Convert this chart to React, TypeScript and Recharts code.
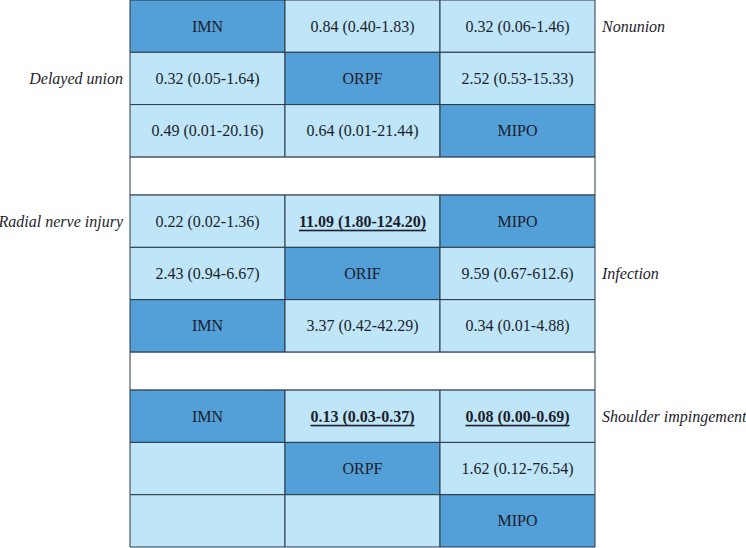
import { ScatterChart, Scatter, XAxis, YAxis, ReferenceArea } from 'recharts';

// three comparison blocks, each a 3x3 grid read row by row
const nonunionGrid = [
  ['IMN', '0.84 (0.40-1.83)', '0.32 (0.06-1.46)'],
  ['0.32 (0.05-1.64)', 'ORPF', '2.52 (0.53-15.33)'],
  ['0.49 (0.01-20.16)', '0.64 (0.01-21.44)', 'MIPO'],
];
const infectionGrid = [
  ['0.22 (0.02-1.36)', '11.09 (1.80-124.20)', 'MIPO'],
  ['2.43 (0.94-6.67)', 'ORIF', '9.59 (0.67-612.6)'],
  ['IMN', '3.37 (0.42-42.29)', '0.34 (0.01-4.88)'],
];
const shoulderGrid = [
  ['IMN', '0.13 (0.03-0.37)', '0.08 (0.00-0.69)'],
  ['', 'ORPF', '1.62 (0.12-76.54)'],
  ['', '', 'MIPO'],
];
const treatments = ['IMN', 'ORPF', 'ORIF', 'MIPO'];
const significant = ['11.09 (1.80-124.20)', '0.13 (0.03-0.37)', '0.08 (0.00-0.69)'];

const sideLabels = [
  { text: 'Nonunion', group: 0, row: 0, side: 'right' },
  { text: 'Delayed union', group: 0, row: 1, side: 'left' },
  { text: 'Radial nerve injury', group: 1, row: 0, side: 'left' },
  { text: 'Infection', group: 1, row: 1, side: 'right' },
  { text: 'Shoulder impingement', group: 2, row: 0, side: 'right' },
];

const GAP = 0.73; // blank spacer row, relative to a cell row
const DARK = '#539fd7';
const LIGHT = '#bee6f8';
const BORDER = '#2a3746';
const FONT = '"Liberation Serif", "Times New Roman", serif';

const groups = [nonunionGrid, infectionGrid, shoulderGrid];
const rowTop = (g: number, r: number) => g * (3 + GAP) + r;
const TOTAL = 3 * 3 + 2 * GAP;

const cells = groups.flatMap((grid, g) =>
  grid.flatMap((row, r) =>
    row.map((text, c) => ({
      x1: c,
      x2: c + 1,
      y1: rowTop(g, r),
      y2: rowTop(g, r) + 1,
      x: c + 0.5,
      y: rowTop(g, r) + 0.5,
      text,
      dark: treatments.includes(text),
      bold: significant.includes(text),
    }))
  )
);

const spacers = [0, 1].map((g) => ({ y1: rowTop(g, 3), y2: rowTop(g + 1, 0) }));

const sidePoints = sideLabels.map((s) => ({
  x: s.side === 'left' ? 0 : 3,
  y: rowTop(s.group, s.row) + 0.5,
  text: s.text,
  side: s.side,
}));

const CellText = (props: any) => {
  const { cx, cy, payload } = props;
  if (!payload.text) return <g />;
  return (
    <text
      x={cx}
      y={cy}
      textAnchor="middle"
      dominantBaseline="central"
      fontFamily={FONT}
      fontSize={16}
      fontWeight={payload.bold ? 'bold' : 'normal'}
      textDecoration={payload.bold ? 'underline' : 'none'}
      fill="#1d1d2b"
    >
      {payload.text}
    </text>
  );
};

const SideText = (props: any) => {
  const { cx, cy, payload } = props;
  const left = payload.side === 'left';
  return (
    <text
      x={left ? cx - 7 : cx + 7}
      y={cy}
      textAnchor={left ? 'end' : 'start'}
      dominantBaseline="central"
      fontFamily={FONT}
      fontSize={16}
      fontStyle="italic"
      fill="#1d1d2b"
    >
      {payload.text}
    </text>
  );
};

export default function App() {
  return (
    <div style={{ position: 'absolute', top: 0, left: 0, background: '#fff' }}>
      <ScatterChart width={746} height={548} margin={{ top: 0, right: 151, left: 130, bottom: 1 }}>
        <XAxis type="number" dataKey="x" domain={[0, 3]} hide />
        <YAxis type="number" dataKey="y" domain={[0, TOTAL]} reversed hide />
        {spacers.map((s, i) => (
          <ReferenceArea
            key={`s${i}`}
            x1={0}
            x2={3}
            y1={s.y1}
            y2={s.y2}
            fill="#fff"
            fillOpacity={1}
            stroke={BORDER}
            strokeWidth={1}
          />
        ))}
        {cells.map((c, i) => (
          <ReferenceArea
            key={i}
            x1={c.x1}
            x2={c.x2}
            y1={c.y1}
            y2={c.y2}
            fill={c.dark ? DARK : LIGHT}
            fillOpacity={1}
            stroke={BORDER}
            strokeWidth={1}
          />
        ))}
        <Scatter data={cells} shape={CellText} isAnimationActive={false} />
        <Scatter data={sidePoints} shape={SideText} isAnimationActive={false} />
      </ScatterChart>
    </div>
  );
}
